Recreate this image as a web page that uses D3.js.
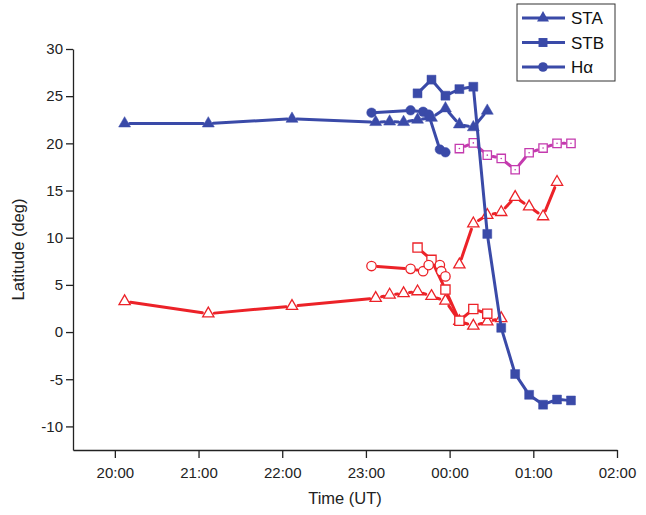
<!DOCTYPE html>
<meta charset="utf-8">
<style>
body {
  margin: 0;
  background: #fff;
  font-family: "Liberation Sans", Arial, Helvetica, sans-serif;
}
.axis text {
  font-size: 15px;
  fill: #222;
}
.axis path, .axis line {
  stroke: #222;
  stroke-width: 1.3px;
}
.title {
  font-size: 16.5px;
  fill: #222;
}
</style>
<body>
<script src="https://cdnjs.cloudflare.com/ajax/libs/d3/7.8.5/d3.min.js"></script>
<script>

var width = 646,
    height = 515;

// times (UT) and latitudes (deg)
var staTimes = ["20:07", "21:07", "22:07", "23:07", "23:17", "23:27", "23:37", "23:47", "23:57", "00:07", "00:17", "00:27", "00:37"];
var staBlue = [22.1, 22.1, 22.6, 22.25, 22.3, 22.25, 22.5, 22.7, 23.7, 22.0, 21.7, 23.45];
var staRed = [3.25, 1.95, 2.75, 3.6, 3.95, 4.1, 4.3, 3.8, 3.3, 1.15, 0.65, 1.1, 1.45];

var staRed2Times = ["00:07", "00:17", "00:27", "00:37", "00:47", "00:57", "01:07", "01:17"];
var staRed2 = [7.15, 11.5, 12.4, 12.7, 14.3, 13.3, 12.25, 15.9];

var stbTimes = ["23:37", "23:47", "23:57", "00:07", "00:17", "00:27", "00:37", "00:47", "00:57", "01:07", "01:17", "01:27"];
var stbBlue = [25.3, 26.75, 25.05, 25.75, 26.0, 10.4, 0.45, -4.45, -6.65, -7.7, -7.15, -7.25];
var stbRed = [8.95, 7.65, 4.5, 1.2, 2.45, 1.95];

var stbMagTimes = ["00:07", "00:17", "00:27", "00:37", "00:47", "00:57", "01:07", "01:17", "01:27"];
var stbMag = [19.45, 20.05, 18.75, 18.4, 17.2, 19.0, 19.5, 20.0, 20.0];

var haTimes = ["23:04", "23:32", "23:41", "23:45", "23:53", "23:57"];
var haBlue = [23.25, 23.5, 23.35, 23.05, 19.35, 19.05];
var haRedTimes = ["23:04", "23:32", "23:41", "23:45", "23:53", "23:54", "23:57"];
var haRed = [7.0, 6.7, 6.45, 7.1, 7.1, 6.45, 5.9];

var xTicks = [20, 21, 22, 23, 24, 25, 26];
var yTicks = [-10, -5, 0, 5, 10, 15, 20, 25, 30];
var legendNames = ["STA", "STB", "H\u03b1"];

var blue = "#3a4aa8",
    red = "#ec2228",
    magenta = "#c43aae";

// "23:07" -> hours, after midnight goes past 24
function hrs(s) {
  var p = s.split(":").map(Number);
  return (p[0] < 12 ? p[0] + 24 : p[0]) + p[1] / 60;
}
function pad(n) { return (n < 10 ? "0" : "") + n; }

var x = d3.scaleLinear().domain([19.5, 26]).range([73, 617]);
var y = d3.scaleLinear().domain([-12.5, 30]).range([450, 49]);

var svg = d3.select("body").append("svg")
    .attr("width", width)
    .attr("height", height);

// axes
var xAxis = svg.append("g")
    .attr("class", "axis")
    .attr("transform", "translate(0," + y(-12.5) + ")");
xAxis.call(d3.axisBottom(x).tickValues(d3.range(19.5, 26, 1)).tickSize(5).tickSizeOuter(0).tickFormat(""));
xAxis.call(d3.axisBottom(x).tickValues(xTicks).tickSize(8).tickSizeOuter(0)
    .tickFormat(function(d) { return pad(d % 24) + ":00"; }));
xAxis.selectAll("text").attr("dy", "1.1em");

var yAxis = svg.append("g")
    .attr("class", "axis")
    .attr("transform", "translate(" + x(19.5) + ",0)");
yAxis.call(d3.axisLeft(y).tickValues(d3.range(-12.5, 30, 5)).tickSize(4).tickSizeOuter(0).tickFormat(""));
yAxis.call(d3.axisLeft(y).tickValues(yTicks).tickSize(7).tickSizeOuter(0)
    .tickFormat(function(d) { return String(d); }));
yAxis.selectAll("text").attr("x", -10);

svg.append("text")
    .attr("class", "title")
    .attr("x", (x.range()[0] + x.range()[1]) / 2)
    .attr("y", 504)
    .attr("text-anchor", "middle")
    .text("Time (UT)");

svg.append("text")
    .attr("class", "title")
    .attr("transform", "translate(24," + (y(30) + y(-12.5)) / 2 + ")rotate(-90)")
    .attr("text-anchor", "middle")
    .text("Latitude (deg)");

// lines stop short of the markers, like the original plot
function gappedLine(g, pts, color, gap) {
  for (var i = 1; i < pts.length; i++) {
    var a = pts[i - 1], b = pts[i],
        dx = b[0] - a[0], dy = b[1] - a[1],
        len = Math.sqrt(dx * dx + dy * dy);
    if (len <= 2 * gap) continue;
    var ux = dx / len, uy = dy / len;
    g.append("line")
        .attr("x1", a[0] + ux * gap).attr("y1", a[1] + uy * gap)
        .attr("x2", b[0] - ux * gap).attr("y2", b[1] - uy * gap)
        .attr("stroke", color)
        .attr("stroke-width", 3)
        .attr("stroke-linecap", "round");
  }
}

function series(times, values, color, symbol, size, open, dot) {
  var pts = values.map(function(v, i) { return [x(hrs(times[i])), y(v)]; });
  var g = svg.append("g");
  gappedLine(g, pts, color, open ? 6 : 5);
  g.selectAll("path.mk")
    .data(pts)
    .enter().append("path")
      .attr("class", "mk")
      .attr("transform", function(d) { return "translate(" + d[0] + "," + d[1] + ")"; })
      .attr("d", d3.symbol().type(symbol).size(size))
      .attr("fill", open ? "#fff" : color)
      .attr("stroke", color)
      .attr("stroke-width", open ? 1.3 : 0.5);
  if (dot) {
    g.selectAll("circle.dot")
      .data(pts)
      .enter().append("circle")
        .attr("class", "dot")
        .attr("cx", function(d) { return d[0]; })
        .attr("cy", function(d) { return d[1]; })
        .attr("r", 0.8)
        .attr("fill", color);
  }
}

// red / magenta (open markers)
series(staTimes, staRed, red, d3.symbolTriangle, 55, true);
series(staRed2Times, staRed2, red, d3.symbolTriangle, 55, true);
series(stbTimes.slice(0, stbRed.length), stbRed, red, d3.symbolSquare, 85, true);
series(haRedTimes, haRed, red, d3.symbolCircle, 70, true);
series(stbMagTimes, stbMag, magenta, d3.symbolSquare, 70, true, true);

// blue (filled markers)
series(staTimes.slice(0, staBlue.length), staBlue, blue, d3.symbolTriangle, 62, false);
series(haTimes, haBlue, blue, d3.symbolCircle, 72, false);
series(stbTimes, stbBlue, blue, d3.symbolSquare, 80, false);

// legend
var legend = svg.append("g");
legend.append("rect")
    .attr("x", 517).attr("y", 4)
    .attr("width", 98).attr("height", 77)
    .attr("fill", "#fff")
    .attr("stroke", "#333")
    .attr("stroke-width", 1);

var legendSymbols = [d3.symbolTriangle, d3.symbolSquare, d3.symbolCircle];
var legendSizes = [62, 80, 72];
legendNames.forEach(function(name, i) {
  var ly = 18 + i * 24.5;
  legend.append("line")
      .attr("x1", 522).attr("x2", 565)
      .attr("y1", ly).attr("y2", ly)
      .attr("stroke", blue)
      .attr("stroke-width", 3);
  legend.append("path")
      .attr("transform", "translate(543," + ly + ")")
      .attr("d", d3.symbol().type(legendSymbols[i]).size(legendSizes[i]))
      .attr("fill", blue);
  legend.append("text")
      .attr("x", 571)
      .attr("y", ly + 6)
      .attr("font-size", 17)
      .attr("fill", "#111")
      .text(name);
});

</script>
</body>
